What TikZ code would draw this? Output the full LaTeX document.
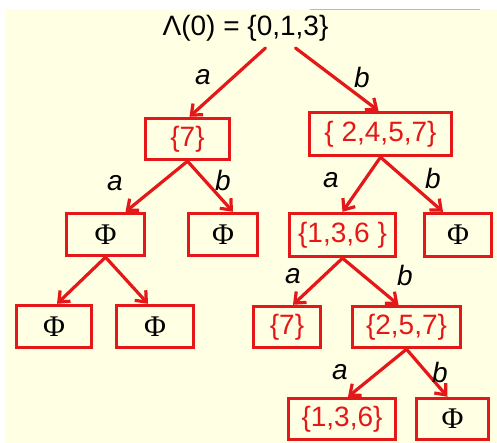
\documentclass[tikz,border=0pt]{standalone}
\usepackage{fontspec}
\setmainfont{Liberation Sans}
\newfontfamily\phifont{Liberation Serif}
\usetikzlibrary{arrows.meta}
\definecolor{treered}{RGB}{228,24,24}
\definecolor{slidecream}{RGB}{255,255,228}
\newcommand{\nulset}{{\phifont Φ}}
\begin{document}
\begin{tikzpicture}[x=1pt,y=-1pt,
  setbox/.style={draw=treered,text=treered,line width=3.4pt,inner sep=0pt,font=\fontsize{28}{30}\selectfont},
  phibox/.style={setbox,text=black,font=\fontsize{30}{32}\selectfont},
  edge/.style={draw=treered,line width=3.2pt,line cap=round,-{Straight Barb[length=9pt,width=15pt,line width=3.2pt]}},
  lbl/.style={font=\itshape\fontsize{28}{30}\selectfont}]
  \useasboundingbox (0,0) rectangle (497,443);
  \fill[slidecream] (6,9) rectangle (497,443);
  \draw[gray!55,line width=1pt] (310,10) -- (480,10);
  % root
  \node[font=\fontsize{28}{30}\selectfont] (root) at (245.5,28) {Λ(0) = \{0,1,3\}};
  % level 1
  \node[setbox,minimum width=84pt,minimum height=41pt] (sA) at (187.5,139) {\{7\}};
  \node[setbox,minimum width=142pt,minimum height=43pt] (sB) at (380.5,134) {\{ 2,4,5,7\}};
  % level 2
  \node[phibox,minimum width=78pt,minimum height=42pt] (sAA) at (105.5,234.5) {\nulset};
  \node[phibox,minimum width=69pt,minimum height=42pt] (sAB) at (223,234.5) {\nulset};
  \node[setbox,minimum width=106pt,minimum height=43pt] (sBA) at (342.5,235) {\{1,3,6 \}};
  \node[phibox,minimum width=67pt,minimum height=43pt] (sBB) at (458,235) {\nulset};
  % level 3
  \node[phibox,minimum width=75pt,minimum height=42pt] (sAAA) at (54,326.5) {\nulset};
  \node[phibox,minimum width=77pt,minimum height=42pt] (sAAB) at (155,326.5) {\nulset};
  \node[setbox,minimum width=67pt,minimum height=41pt] (sBAA) at (287,327) {\{7\}};
  \node[setbox,minimum width=108pt,minimum height=41pt] (sBAB) at (406.5,327) {\{2,5,7\}};
  % level 4
  \node[setbox,minimum width=107pt,minimum height=41pt] (sBABA) at (342,419) {\{1,3,6\}};
  \node[phibox,minimum width=72pt,minimum height=41pt] (sBABB) at (452.5,419) {\nulset};
  % edges
  \draw[edge] ([xshift=20pt,yshift=-20pt]root.center) -- ([xshift=2pt]sA.north);
  \draw[edge] ([xshift=50pt,yshift=-20pt]root.center) -- ([xshift=-2pt]sB.north);
  \foreach \u/\v/\dx in {sA/sAA/20, sA/sAB/10, sB/sBA/0, sB/sBB/-15, sAA/sAAA/3, sAA/sAAB/-7,
                         sBA/sBAA/6, sBA/sBAB/-8, sBAB/sBABA/6, sBAB/sBABB/-5}
    \draw[edge] (\u.south) -- ([xshift=\dx pt]\v.north);
  % labels
  \foreach \x/\y/\t [count=\n] in {203/77/a, 362/77/b, 115/183/a, 223/180/b, 331/180/a, 433/178/b,
                                   293/276/a, 405/275/b, 340/372/a, 440/372/b}
    \node[lbl] (l\n) at (\x,\y) {\t};
\end{tikzpicture}
\end{document}
